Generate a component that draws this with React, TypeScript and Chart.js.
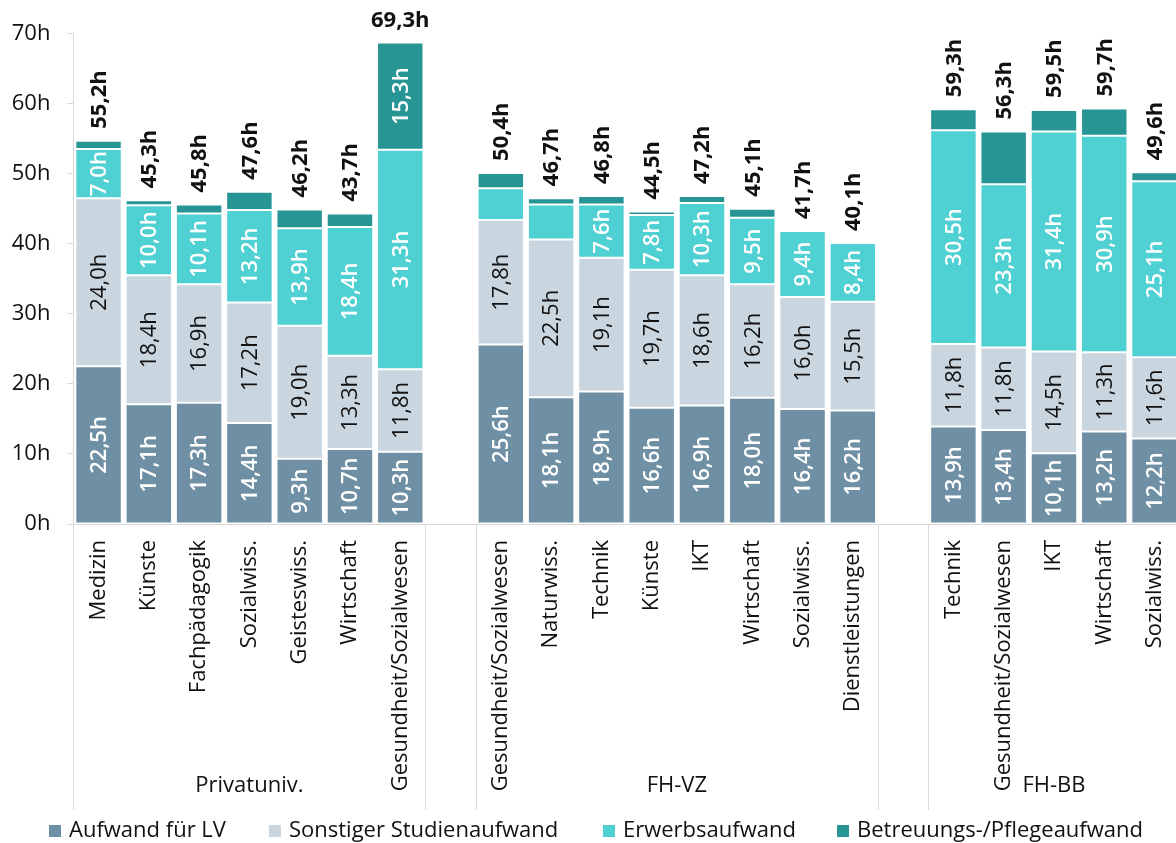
import React, { useEffect, useRef } from 'react';
import { Chart, registerables } from 'chart.js';

Chart.register(...registerables);

// ---------- data ----------
const categories = [
  'Medizin', 'Künste', 'Fachpädagogik', 'Sozialwiss.', 'Geisteswiss.', 'Wirtschaft', 'Gesundheit/Sozialwesen',
  '',
  'Gesundheit/Sozialwesen', 'Naturwiss.', 'Technik', 'Künste', 'IKT', 'Wirtschaft', 'Sozialwiss.', 'Dienstleistungen',
  '',
  'Technik', 'Gesundheit/Sozialwesen', 'IKT', 'Wirtschaft', 'Sozialwiss.',
];

const groupNames = ['Privatuniv.', 'FH-VZ', 'FH-BB'];
const groupStarts = [0, 8, 17];
const groupEnds = [6, 15, 21];

const seriesNames = ['Aufwand für LV', 'Sonstiger Studienaufwand', 'Erwerbsaufwand', 'Betreuungs-/Pflegeaufwand'];

const aufwandLV = [22.5, 17.1, 17.3, 14.4, 9.3, 10.7, 10.3, null, 25.6, 18.1, 18.9, 16.6, 16.9, 18.0, 16.4, 16.2, null, 13.9, 13.4, 10.1, 13.2, 12.2];
const sonstigerAufwand = [24.0, 18.4, 16.9, 17.2, 19.0, 13.3, 11.8, null, 17.8, 22.5, 19.1, 19.7, 18.6, 16.2, 16.0, 15.5, null, 11.8, 11.8, 14.5, 11.3, 11.6];
const erwerbsaufwand = [7.0, 10.0, 10.1, 13.2, 13.9, 18.4, 31.3, null, 4.5, 5.0, 7.6, 7.8, 10.3, 9.5, 9.4, 8.4, null, 30.5, 23.3, 31.4, 30.9, 25.1];
const betreuungsaufwand = [1.2, 0.7, 1.3, 2.6, 2.7, 1.9, 15.3, null, 2.2, 0.9, 1.2, 0.5, 1.0, 1.3, 0.0, 0.0, null, 3.0, 7.5, 3.1, 3.9, 1.3];
const totals = [55.2, 45.3, 45.8, 47.6, 46.2, 43.7, 69.3, null, 50.4, 46.7, 46.8, 44.5, 47.2, 45.1, 41.7, 40.1, null, 59.3, 56.3, 59.5, 59.7, 49.6];

const yMin = 0;
const yMax = 70;
const yStep = 10;

// ---------- styles ----------
const FONT = "'Open Sans', sans-serif";
const FS = 22;
const TEXT = '#111111';
const AXIS = '#d9d9d9';
const seriesColors = ['#6F8FA4', '#CAD6DF', '#4FD0D2', '#289595'];
const labelColors = ['#ffffff', '#111111', '#ffffff', '#ffffff'];
const labelWeights = ['600', 'normal', '600', '600'];
const labelThresholds = [6, 6, 6, 10];
const legendX = [49, 269, 603, 837];

const fmt = (v: number) => v.toFixed(1).replace('.', ',') + 'h';

const labelPlugin = {
  id: 'segmentLabels',
  afterDatasetsDraw(chart: any) {
    const ctx = chart.ctx;
    ctx.save();
    chart.data.datasets.forEach((ds: any, di: number) => {
      const meta = chart.getDatasetMeta(di);
      meta.data.forEach((el: any, i: number) => {
        const v = ds.data[i];
        if (v == null || v < labelThresholds[di]) return;
        ctx.save();
        ctx.translate(el.x + 1, (el.y + el.base) / 2);
        ctx.rotate(-Math.PI / 2);
        ctx.font = `${labelWeights[di]} ${FS}px ${FONT}`;
        ctx.fillStyle = labelColors[di];
        ctx.textAlign = 'center';
        ctx.textBaseline = 'middle';
        ctx.fillText(fmt(v), 0, 0);
        ctx.restore();
      });
    });
    // totals
    totals.forEach((t, i) => {
      if (t == null) return;
      let top = Infinity;
      let x = 0;
      chart.data.datasets.forEach((_: any, di: number) => {
        const el = chart.getDatasetMeta(di).data[i];
        if (el) {
          top = Math.min(top, el.y);
          x = el.x;
        }
      });
      const txt = fmt(t);
      ctx.font = `bold ${FS}px ${FONT}`;
      ctx.fillStyle = TEXT;
      const w = ctx.measureText(txt).width;
      if (top - 12 - w < 2) {
        ctx.textAlign = 'center';
        ctx.textBaseline = 'middle';
        ctx.fillText(txt, x, top - 22);
      } else {
        ctx.save();
        ctx.translate(x + 1, top - 12);
        ctx.rotate(-Math.PI / 2);
        ctx.textAlign = 'left';
        ctx.textBaseline = 'middle';
        ctx.fillText(txt, 0, 0);
        ctx.restore();
      }
    });
    ctx.restore();
  },
};

const decorPlugin = {
  id: 'decor',
  afterDraw(chart: any) {
    const ctx = chart.ctx;
    const xs = chart.scales.x;
    const area = chart.chartArea;
    const half = (xs.getPixelForTick(1) - xs.getPixelForTick(0)) / 2;
    ctx.save();
    // group separators
    ctx.strokeStyle = AXIS;
    ctx.lineWidth = 1;
    groupStarts.forEach((s, g) => {
      const e = groupEnds[g];
      const xl = Math.round(xs.getPixelForTick(s) - half) + 0.5;
      const xr = Math.round(xs.getPixelForTick(e) + half) + 0.5;
      [xl, xr].forEach((xx) => {
        ctx.beginPath();
        ctx.moveTo(xx, area.bottom);
        ctx.lineTo(xx, 810);
        ctx.stroke();
      });
      // group label
      ctx.font = `${FS}px ${FONT}`;
      ctx.fillStyle = TEXT;
      ctx.textAlign = 'center';
      ctx.textBaseline = 'middle';
      ctx.fillText(groupNames[g], (xs.getPixelForTick(s) + xs.getPixelForTick(e)) / 2, 786);
    });
    // legend
    const ly = 831;
    ctx.font = `${FS}px ${FONT}`;
    ctx.textAlign = 'left';
    ctx.textBaseline = 'middle';
    seriesNames.forEach((name, i) => {
      const lx = legendX[i];
      ctx.fillStyle = seriesColors[i];
      ctx.fillRect(lx, ly - 6, 12, 12);
      ctx.fillStyle = TEXT;
      ctx.fillText(name, lx + 20, ly);
    });
    ctx.restore();
  },
};

export default function App() {
  const canvasRef = useRef<HTMLCanvasElement | null>(null);

  useEffect(() => {
    if (!canvasRef.current) return;
    const seriesData = [aufwandLV, sonstigerAufwand, erwerbsaufwand, betreuungsaufwand];
    const chart = new Chart(canvasRef.current, {
      type: 'bar',
      data: {
        labels: categories,
        datasets: seriesData.map((d, i) => ({
          label: seriesNames[i],
          data: d,
          backgroundColor: seriesColors[i],
          borderColor: '#ffffff',
          borderWidth: 1,
          borderSkipped: false,
          barPercentage: 0.924,
          categoryPercentage: 1,
        })),
      },
      options: {
        animation: false,
        responsive: true,
        maintainAspectRatio: false,
        layout: { padding: { top: 33.5, right: 2, left: 0, bottom: 0 } },
        plugins: {
          legend: { display: false },
          tooltip: { enabled: false },
        },
        scales: {
          x: {
            stacked: true,
            grid: { display: false, drawTicks: false },
            border: { display: true, color: AXIS, width: 1 },
            ticks: {
              autoSkip: false,
              minRotation: 90,
              maxRotation: 90,
              padding: 16,
              color: TEXT,
              font: { family: FONT, size: FS },
            },
            afterFit: (s: any) => {
              s.height = 319;
            },
          },
          y: {
            stacked: true,
            min: yMin,
            max: yMax,
            grid: { display: true, drawOnChartArea: false, drawTicks: true, tickLength: 6, color: AXIS },
            border: { display: true, color: AXIS, width: 1 },
            ticks: {
              stepSize: yStep,
              padding: 17,
              color: TEXT,
              font: { family: FONT, size: FS },
              callback: (v: any) => `${v}h`,
            },
            afterFit: (s: any) => {
              s.width = 73.4;
            },
          },
        },
      } as any,
      plugins: [labelPlugin, decorPlugin],
    });
    return () => chart.destroy();
  }, []);

  return (
    <div style={{ position: 'fixed', left: 0, top: 0, width: 1176, height: 843, overflow: 'hidden', background: '#fff' }}>
      <div style={{ position: 'relative', width: 1197, height: 843 }}>
        <canvas ref={canvasRef} />
      </div>
    </div>
  );
}
